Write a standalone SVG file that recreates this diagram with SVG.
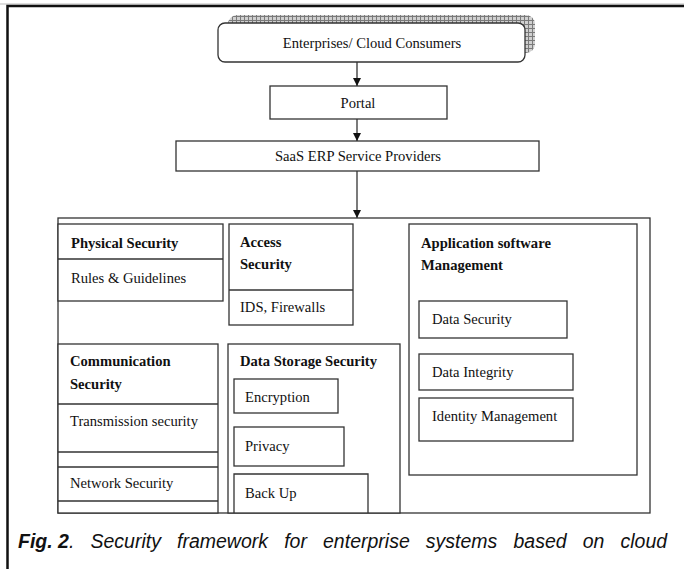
<svg xmlns="http://www.w3.org/2000/svg" width="684" height="569" viewBox="0 0 684 569">
<style>
.bx{fill:#fff;stroke:#333;stroke-width:1.3}
.ln{fill:none;stroke:#333;stroke-width:1.3}
.t{font-family:"Liberation Serif","Times New Roman",serif;font-size:14.6px;fill:#111}
.b{font-weight:bold}
.c{text-anchor:middle}
.cap{font-family:"Liberation Sans",Arial,sans-serif;font-size:19.5px;font-style:italic;fill:#111;word-spacing:10.7px}
</style>
<defs>
<pattern id="hatch" width="4" height="4" patternUnits="userSpaceOnUse">
<rect width="4" height="4" fill="#d0d0d0"/>
<path d="M0,0.5H4M0.5,0V4" stroke="#7a7a7a" stroke-width="1"/>
</pattern>
<marker id="ah" viewBox="0 0 10 10" refX="10" refY="5" markerWidth="8" markerHeight="8" markerUnits="userSpaceOnUse" orient="auto">
<path d="M0,0L10,5L0,10z" fill="#111"/>
</marker>
</defs>
<rect width="684" height="569" fill="#fff"/>
<!-- frame -->
<path d="M0,4H684" stroke="#bbb" stroke-width="1"/>
<path d="M7.5,569V6H684" fill="none" stroke="#111" stroke-width="2.5"/>

<g id="enterprises">
<rect x="228" y="15" width="307" height="38" rx="9" fill="url(#hatch)"/>
<rect class="bx" x="218" y="23" width="307" height="39" rx="7"/>
<text class="t c" x="372" y="48">Enterprises/ Cloud Consumers</text>
</g>
<g id="portal">
<rect class="bx" x="270" y="86" width="177" height="33"/>
<text class="t c" x="358" y="108">Portal</text>
</g>
<g id="saas">
<rect class="bx" x="176" y="141" width="363" height="30"/>
<text class="t c" x="358" y="161">SaaS ERP Service Providers</text>
</g>

<g id="connectors">
<line class="ln" x1="357" y1="62" x2="357" y2="86" marker-end="url(#ah)"/>
<line class="ln" x1="357" y1="119" x2="357" y2="141" marker-end="url(#ah)"/>
<line class="ln" x1="357" y1="171" x2="357" y2="218" marker-end="url(#ah)"/>
</g>

<g id="container">
<rect class="bx" x="58" y="218" width="592" height="295"/>
</g>

<g id="physical">
<rect class="bx" x="58" y="224" width="165" height="77"/>
<line class="ln" x1="58" y1="259" x2="223" y2="259"/>
<text class="t b" x="71" y="248">Physical Security</text>
<text class="t" x="71" y="283">Rules &amp; Guidelines</text>
</g>

<g id="access">
<rect class="bx" x="229" y="224" width="124" height="101"/>
<line class="ln" x1="229" y1="290" x2="353" y2="290"/>
<text class="t b" x="240" y="247">Access</text>
<text class="t b" x="240" y="269">Security</text>
<text class="t" x="240" y="312">IDS, Firewalls</text>
</g>

<g id="communication">
<rect class="bx" x="58" y="344" width="160" height="169"/>
<line class="ln" x1="58" y1="404" x2="218" y2="404"/>
<line class="ln" x1="58" y1="452" x2="218" y2="452"/>
<line class="ln" x1="58" y1="467" x2="218" y2="467"/>
<line class="ln" x1="58" y1="501" x2="218" y2="501"/>
<text class="t b" x="70" y="366">Communication</text>
<text class="t b" x="70" y="389">Security</text>
<text class="t" x="70" y="426">Transmission security</text>
<text class="t" x="70" y="488">Network Security</text>
</g>

<g id="datastorage">
<rect class="bx" x="228" y="344" width="172" height="169"/>
<text class="t b" x="240" y="366">Data Storage Security</text>
<rect class="bx" x="234" y="379" width="104" height="34"/>
<text class="t" x="245" y="402">Encryption</text>
<rect class="bx" x="234" y="427" width="110" height="39"/>
<text class="t" x="245" y="451">Privacy</text>
<path class="ln" d="M234,513V474H368V513"/>
<text class="t" x="245" y="498">Back Up</text>
</g>

<g id="appsoftware">
<rect class="bx" x="409" y="224" width="228" height="251"/>
<text class="t b" x="421" y="248">Application software</text>
<text class="t b" x="421" y="270">Management</text>
<rect class="bx" x="419" y="301" width="148" height="37"/>
<text class="t" x="432" y="324">Data Security</text>
<rect class="bx" x="419" y="354" width="154" height="36"/>
<text class="t" x="432" y="377">Data Integrity</text>
<rect class="bx" x="419" y="398" width="154" height="43"/>
<text class="t" x="432" y="421">Identity Management</text>
</g>

<text class="cap" x="18" y="548"><tspan font-weight="bold" word-spacing="0">Fig. 2</tspan>. Security framework for enterprise systems based on cloud</text>
</svg>
